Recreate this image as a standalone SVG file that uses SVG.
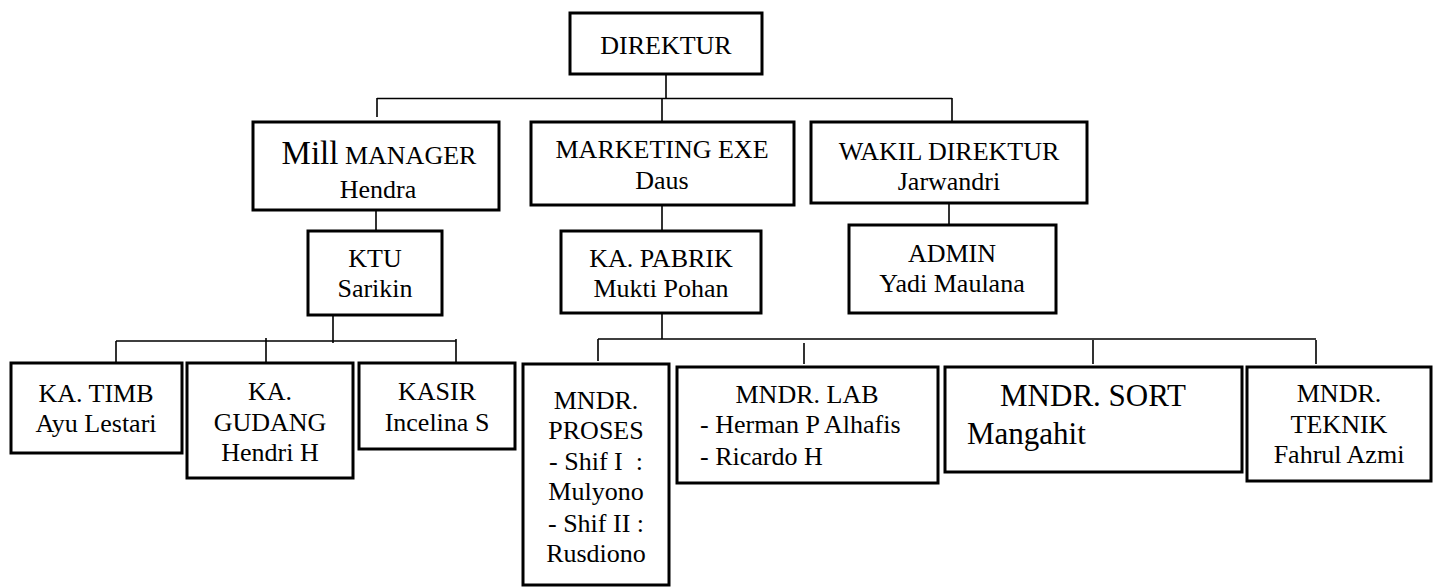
<svg xmlns="http://www.w3.org/2000/svg" width="1435" height="587" viewBox="0 0 1435 587" font-family="'Liberation Serif', 'Times New Roman', 'DejaVu Serif', serif">
<style>
.box{fill:#fff;stroke:#000;stroke-width:3}
.ln{stroke:#000;stroke-width:1.6;fill:none}
text{font-family:'Liberation Serif','Times New Roman','DejaVu Serif',serif;font-size:26px;fill:#000}
.c{text-anchor:middle}
.pre{white-space:pre}
text.big{font-size:31px}
</style>
<rect width="1435" height="587" fill="#fff"/>
<g id="connectors">
<path class="ln" d="M666 74V98.5M377 98.5H952M377 98V117M662 98V122M952 98V122"/>
<path class="ln" d="M376 211V231M662 205V231M949 203V225"/>
<path class="ln" d="M333 309V343M116 341H456M116 341V362M266 338V362M456 339V362"/>
<path class="ln" d="M662 303V339M598 339H1316M598 339V361M804 343V364M1093 340V364M1316 340V364"/>
</g>
<g id="direktur"><rect class="box" x="570" y="13" width="192" height="61"/><text class="c" x="666" y="54">DIREKTUR</text></g>
<g id="mill-manager"><rect class="box" x="253" y="122" width="246" height="88"/><text class="c" x="379" y="164"><tspan style="font-size:33px">Mill</tspan> MANAGER</text><text class="c" x="378" y="198">Hendra</text></g>
<g id="marketing"><rect class="box" x="531" y="122" width="263" height="83"/><text class="c" x="662" y="158">MARKETING EXE</text><text class="c" x="662" y="189">Daus</text></g>
<g id="wakil"><rect class="box" x="811" y="122" width="276" height="81"/><text class="c" x="949" y="160">WAKIL DIREKTUR</text><text class="c" x="949" y="190">Jarwandri</text></g>
<g id="ktu"><rect class="box" x="308" y="231" width="134" height="84"/><text class="c" x="375" y="267">KTU</text><text class="c" x="375" y="297">Sarikin</text></g>
<g id="ka-pabrik"><rect class="box" x="561" y="231" width="200" height="82"/><text class="c" x="661" y="267">KA. PABRIK</text><text class="c" x="661" y="297">Mukti Pohan</text></g>
<g id="admin"><rect class="box" x="849" y="225" width="207" height="88"/><text class="c" x="952" y="262">ADMIN</text><text class="c" x="952" y="292">Yadi Maulana</text></g>
<g id="ka-timb"><rect class="box" x="11" y="363" width="171" height="90"/><text class="c" x="96" y="402">KA. TIMB</text><text class="c" x="96" y="432">Ayu Lestari</text></g>
<g id="ka-gudang"><rect class="box" x="187" y="363" width="166" height="115"/><text class="c" x="270" y="400">KA.</text><text class="c" x="270" y="431">GUDANG</text><text class="c" x="270" y="461">Hendri H</text></g>
<g id="kasir"><rect class="box" x="359" y="363" width="156" height="86"/><text class="c" x="437" y="400">KASIR</text><text class="c" x="437" y="431">Incelina S</text></g>
<g id="mndr-proses"><rect class="box" x="523" y="364" width="146" height="221"/><text class="c" x="596" y="409">MNDR.</text><text class="c" x="596" y="439">PROSES</text><text class="c pre" x="596" y="470">- Shif I  :</text><text class="c" x="596" y="500">Mulyono</text><text class="c" x="596" y="532">- Shif II :</text><text class="c" x="596" y="562">Rusdiono</text></g>
<g id="mndr-lab"><rect class="box" x="677" y="367" width="261" height="116"/><text class="c" x="807" y="403">MNDR. LAB</text><text x="700" y="433">- Herman P Alhafis</text><text x="700" y="465">- Ricardo H</text></g>
<g id="mndr-sort"><rect class="box" x="945" y="367" width="297" height="105"/><text class="c big" x="1093" y="406">MNDR. SORT</text><text class="big" x="967" y="444">Mangahit</text></g>
<g id="mndr-teknik"><rect class="box" x="1247" y="367" width="184" height="114"/><text class="c" x="1339" y="402">MNDR.</text><text class="c" x="1339" y="433">TEKNIK</text><text class="c" x="1339" y="463">Fahrul Azmi</text></g>
</svg>
